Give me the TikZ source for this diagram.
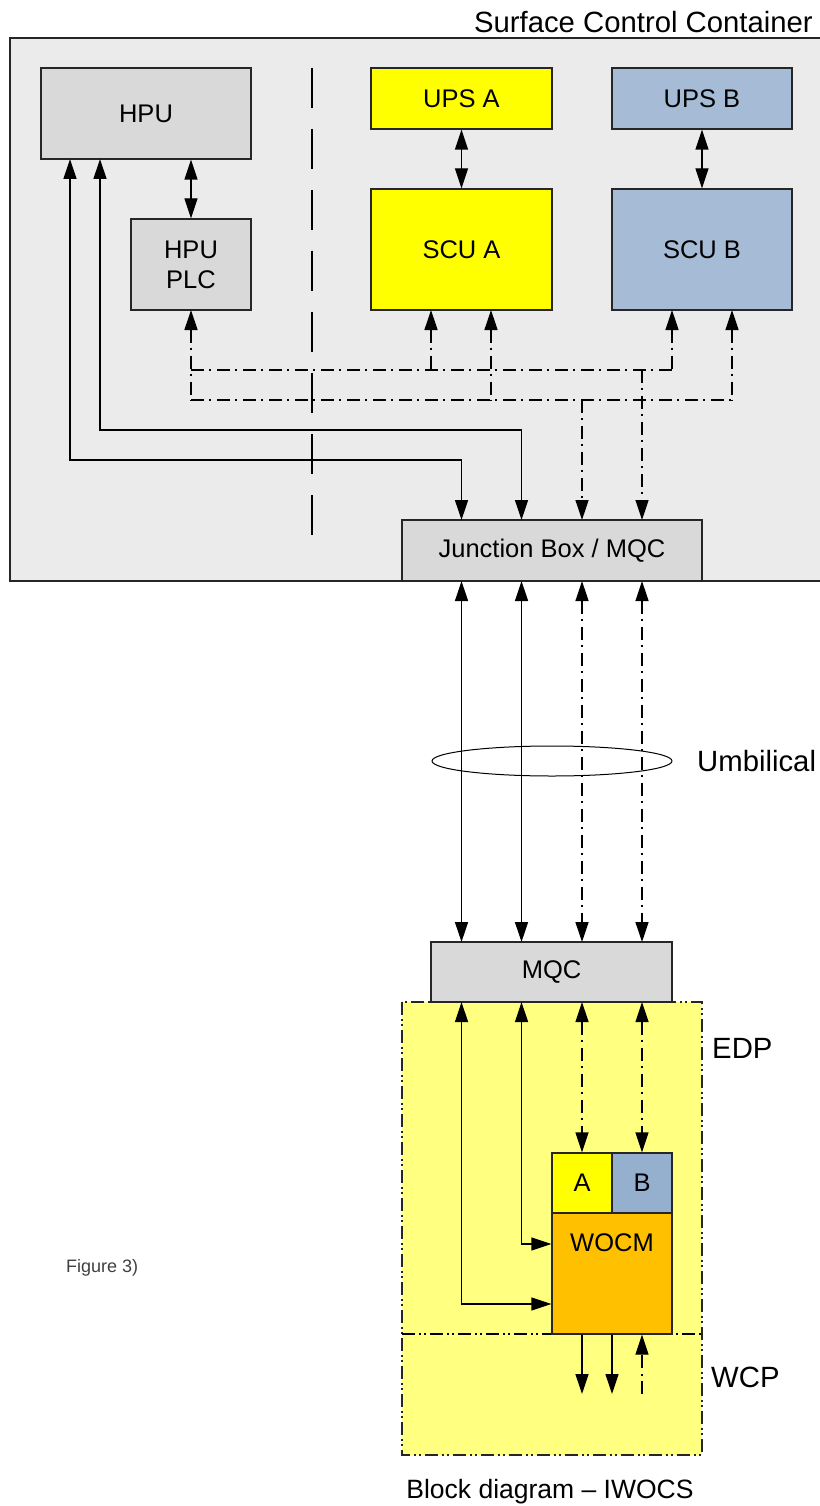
\documentclass[tikz,border=0pt]{standalone}
\usepackage{fontspec}
\setmainfont{Liberation Sans}
\usetikzlibrary{arrows.meta}
\definecolor{contbg}{HTML}{EBEBEB}
\definecolor{boxgray}{HTML}{D9D9D9}
\definecolor{ylw}{HTML}{FFFF00}
\definecolor{blu}{HTML}{A6BBD6}
\definecolor{bludark}{HTML}{95AFCF}
\definecolor{edpy}{HTML}{FFFF80}
\definecolor{orng}{HTML}{FFC000}
\tikzset{
  blk/.style={draw=black!85, line width=1.3pt, inner sep=0pt, font=\fontsize{25.5}{30}\selectfont},
  lbl/.style={font=\fontsize{29.3}{34}\selectfont, inner sep=0pt},
  conn/.style={line width=1.3pt, {Triangle[length=20pt,width=13pt]}-{Triangle[length=20pt,width=13pt]}},
  arr/.style={line width=1.3pt, -{Triangle[length=20pt,width=13pt]}},
  tip/.style={line width=1.3pt, {Triangle[length=20pt,width=13pt]}-},
  dd/.style={dash pattern=on 13pt off 5pt on 2pt off 6pt},
  ddd/.style={dash pattern=on 13pt off 4pt on 2pt off 3pt on 2pt off 4pt},
}
\begin{document}
\begin{tikzpicture}[x=1pt,y=-1pt]
\useasboundingbox (0,0) rectangle (819,1506);
% container
\filldraw[fill=contbg, draw=black!85, line width=1.3pt] (10,38) rectangle (830,581);
\node[lbl, anchor=east] (sct) at (813,22) {Surface Control Container};
% separator
\draw[line width=2pt, dash pattern=on 40pt off 21pt] (312,68) -- (312,537);
% boxes
\node[blk, fill=boxgray, minimum width=210pt, minimum height=91pt] (hpu) at (146,113.5) {HPU};
\node[blk, fill=boxgray, minimum width=120pt, minimum height=91pt, align=center] (plc) at (191,264.5) {HPU\\[0pt]PLC};
\node[blk, fill=ylw, minimum width=181pt, minimum height=61pt] (upsa) at (461.5,98.5) {UPS A};
\node[blk, fill=blu, minimum width=180pt, minimum height=61pt] (upsb) at (702,98.5) {UPS B};
\node[blk, fill=ylw, minimum width=181pt, minimum height=121pt] (scua) at (461.5,249.5) {SCU A};
\node[blk, fill=blu, minimum width=180pt, minimum height=121pt] (scub) at (702,249.5) {SCU B};
\node[blk, fill=boxgray, minimum width=300pt, minimum height=61pt] (jb) at (552,550.5) {Junction Box / MQC};
% internal connectors
\draw[conn] (hpu.south -| plc.north) -- (plc.north);
\draw[conn] (upsa) -- (scua);
\draw[conn] (upsb) -- (scub);
\coordinate (h1) at (70,159);
\coordinate (h2) at (100,159);
\draw[conn] (h1) -- (70,460) -- (461.5,460) -- (461.5,520);
\draw[conn] (h2) -- (100,430) -- (521.5,430) -- (521.5,520);
% network buses
\draw[tip, dd] (191,310) -- (191,400);
\draw[line width=1.3pt, dd] (191,370) -- (672,370);
\draw[line width=1.3pt, dd] (191,400) -- (732,400);
\draw[tip, dd] (431,310) -- (431,370);
\draw[tip, dd] (491,310) -- (491,400);
\draw[tip, dd] (672,310) -- (672,370);
\draw[tip, dd] (732,310) -- (732,400);
\draw[arr, dd] (582,400) -- (582,520);
\draw[arr, dd] (642,370) -- (642,520);
% EDP / WCP region
\filldraw[fill=edpy, draw=black!85, line width=1.3pt, ddd] (402,1002) rectangle (702,1455);
\draw[line width=1.3pt, ddd] (402,1334) -- (702,1334);
\node[blk, fill=boxgray, minimum width=241pt, minimum height=60pt] (mqc) at (551.5,972) {MQC};
% umbilical connectors
\draw[conn] (461.5,581) -- (461.5,942);
\draw[conn] (521.5,581) -- (521.5,942);
\draw[conn, dd] (582,581) -- (582,942);
\draw[conn, dd] (642,581) -- (642,942);
\draw[line width=1pt] (552,761) ellipse (120pt and 15pt);
\node[lbl, anchor=west] (umb) at (697,761) {Umbilical};
% WOCM
\node[blk, fill=ylw, minimum width=60pt, minimum height=60pt] (a) at (582,1183) {A};
\node[blk, fill=bludark, minimum width=60pt, minimum height=60pt] (b) at (642,1183) {B};
\node[blk, fill=orng, minimum width=120pt, minimum height=121pt] (wocm) at (612,1273.5) {};
\node[font=\fontsize{25.5}{30}\selectfont] (wocmt) at (612,1243) {WOCM};
\draw[conn] (461.5,1002) -- (461.5,1304) -- (wocm.west |- 0,1304);
\draw[conn] (521.5,1002) -- (521.5,1244) -- (wocm.west |- 0,1244);
\draw[conn, dd] (582,1002) -- (a.north);
\draw[conn, dd] (642,1002) -- (b.north);
\coordinate (w1) at (582,1394);
\coordinate (w2) at (612,1394);
\coordinate (w3) at (642,1394);
\draw[arr] (wocm.south -| w1) -- (w1);
\draw[arr] (wocm.south -| w2) -- (w2);
\draw[arr, dd] (w3) -- (wocm.south -| w3);
\node[lbl, anchor=west] (edp) at (712,1048) {EDP};
\node[lbl, anchor=west] (wcp) at (711,1377) {WCP};
\node[lbl, font=\fontsize{26.5}{31}\selectfont] (cap) at (550,1492) {Block diagram – IWOCS};
\node[anchor=west, inner sep=0pt, font=\fontsize{18}{21}\selectfont, text=black!75] (fig) at (66,1268) {Figure 3)};
\end{tikzpicture}
\end{document}
